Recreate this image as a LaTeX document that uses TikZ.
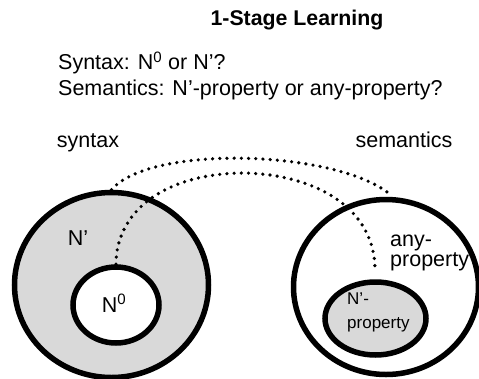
\documentclass[tikz,border=0pt]{standalone}
\usepackage{fontspec}
\setmainfont{Liberation Sans}
\usetikzlibrary{shapes.geometric}

\begin{document}
\begin{tikzpicture}[x=1pt,y=-1pt,
  set/.style={ellipse,draw=black,line width=5.5pt,inner sep=0pt},
  link/.style={line width=3.6pt,line cap=round,dash pattern=on 0pt off 7.2pt},
  txt/.style={inner sep=0pt,font=\fontsize{21.5}{26}\selectfont}]
\useasboundingbox (0,0) rectangle (479,378);

% the four sets
\node[set,fill=black!15,minimum width=194pt,minimum height=185pt] (synbig) at (111.5,285) {};
\node[set,fill=white,minimum width=86pt,minimum height=76pt] (synsmall) at (116,305) {};
\node[set,fill=white,minimum width=185pt,minimum height=175pt] (sembig) at (386,287) {};
\node[set,fill=black!15,minimum width=101pt,minimum height=73pt] (semsmall) at (375.5,318.5) {};

% texts
\node[txt,font=\bfseries\fontsize{21.3}{26}\selectfont,anchor=base] (title) at (297,25.5) {1-Stage Learning};
\node[txt,anchor=base west] (qsyn) at (58,69.7) {Syntax: N\textsuperscript{0} or N’?};
\node[txt,anchor=base west] (qsem) at (58,95.7) {Semantics: N’-property or any-property?};
\node[txt,anchor=base] (syn) at (88,147) {syntax};
\node[txt,anchor=base] (sem) at (404,147) {semantics};
\node[txt,anchor=base] (nbar) at (78,245) {N’};
\node[txt,anchor=base] (nzero) at (114,312) {N\textsuperscript{0}};
\node[txt,anchor=base west] (any) at (390,246) {any-};
\node[txt,anchor=base west] (anyprop) at (390,266) {property};
\node[txt,anchor=base west,font=\fontsize{17}{20}\selectfont] (nbarp) at (347,304) {N’-};
\node[txt,anchor=base west,font=\fontsize{17}{20}\selectfont] (nbarprop) at (347,328) {property};

% dotted links
\coordinate (semtop) at (387,192);
\coordinate (arcpeak) at (240,173);
\coordinate (propend) at (375,270);
\draw[link] (synbig.north) .. controls +(38.5,-45) and +(-57,-42) .. (semtop);
\draw[link] (synsmall.north) .. controls +(0,-50) and +(-80,2) .. (arcpeak)
  .. controls +(70,0) and +(0,-65) .. (propend);
\end{tikzpicture}
\end{document}
